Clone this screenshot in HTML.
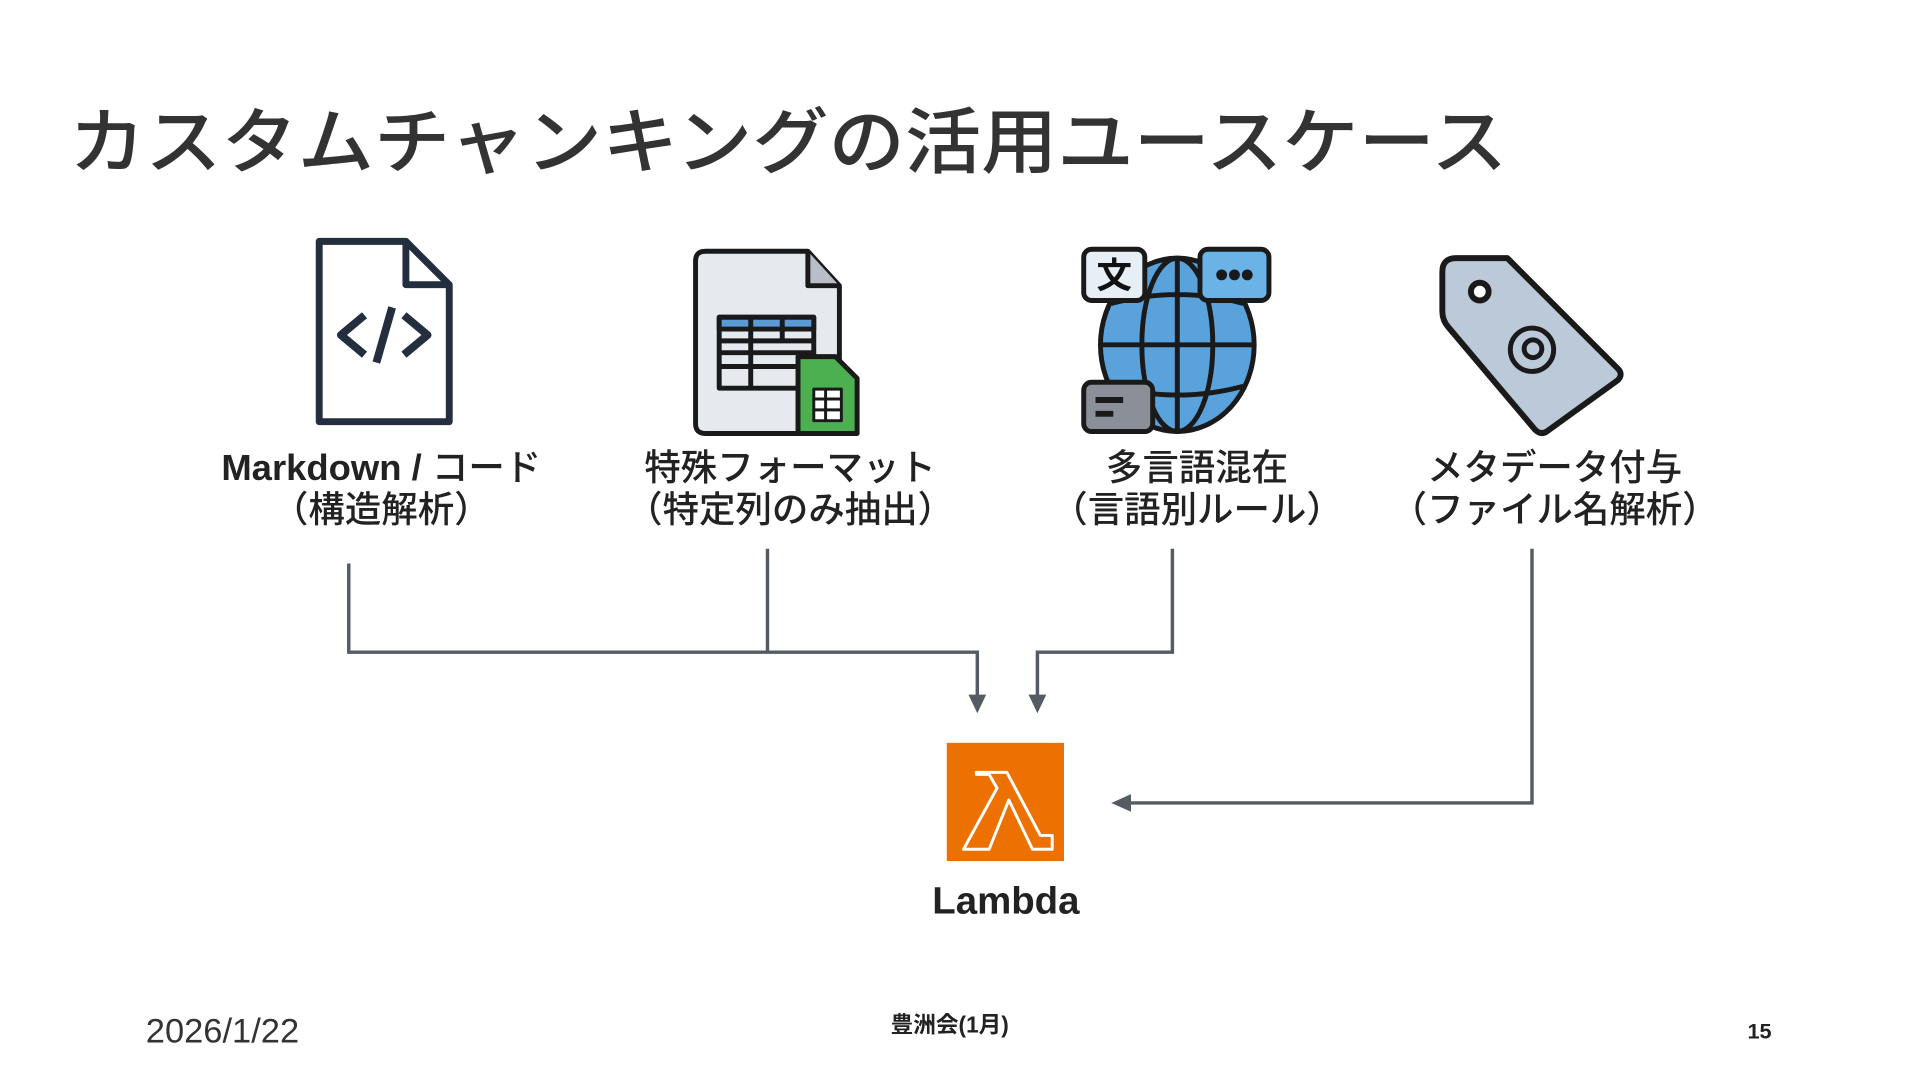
<!DOCTYPE html>
<html><head><meta charset="utf-8"><style>
html,body{margin:0;padding:0;background:#fff;}
svg{display:block}
text{font-family:"Liberation Sans","Noto Sans CJK JP",sans-serif;}
</style></head><body>
<svg width="1920" height="1080" viewBox="0 0 1920 1080" xmlns="http://www.w3.org/2000/svg">
<g transform="scale(0.9852)">
<text x="70" y="170" font-size="73" fill="#333" font-weight="500" style="font-family:'Noto Sans CJK JP',sans-serif" textLength="1460" lengthAdjust="spacingAndGlyphs">カスタムチャンキングの活用ユースケース</text>

<!-- doc code icon -->
<g fill="none" stroke="#232f3e" stroke-width="7" stroke-linejoin="round">
<path d="M324 245 H412 L456 289 V428 H324 Z"/>
<path d="M412 245 V289 H456"/>
<path d="M370 320 L346 340 L370 360" stroke-width="8"/>
<path d="M410 320 L434 340 L410 360" stroke-width="8"/>
<path d="M398 312 L382 368" stroke-width="8"/>
</g>

<!-- spreadsheet icon -->
<g stroke="#1a1a1a" stroke-width="5" stroke-linejoin="round">
<path d="M716 255 H820 L852 290 V440 H716 Q706 440 706 430 V265 Q706 255 716 255Z" fill="#e6e9ee"/>
<path d="M820 255 V290 H852" fill="#b8bec7"/>
<rect x="730" y="322" width="96" height="72" fill="#e6e9ee"/>
<rect x="730" y="322" width="96" height="12" fill="#5b9bd5"/>
<path d="M730 346 H826 M730 358 H826 M730 372 H826 M762 322 V394 M794 322 V346" fill="none"/>
<path d="M810 362 H848 L870 384 V440 H810Z" fill="#4caf50"/>
<rect x="826" y="395" width="28" height="32" fill="#fff" stroke-width="3"/>
<path d="M826 405 H854 M826 416 H854 M838 395 V427" stroke-width="3"/>
</g>

<!-- globe icon -->
<g stroke="#1a1a1a" stroke-width="5">
<ellipse cx="1195" cy="350" rx="78" ry="88" fill="#5aa2dc"/>
<ellipse cx="1195" cy="350" rx="36" ry="88" fill="none"/>
<path d="M1117 350 H1273 M1195 262 V438 M1128 308 Q1195 290 1262 308 M1128 392 Q1195 410 1262 392" fill="none"/>
<rect x="1100" y="253" width="62" height="52" rx="8" fill="#e6eef6"/>
<text x="1131" y="292" font-size="36" font-weight="bold" text-anchor="middle" fill="#111" stroke="none">文</text>
<rect x="1218" y="253" width="70" height="52" rx="8" fill="#69b3e7"/>
<circle cx="1240" cy="279" r="3" fill="#111"/><circle cx="1253" cy="279" r="3" fill="#111"/><circle cx="1266" cy="279" r="3" fill="#111"/>
<rect x="1100" y="388" width="70" height="50" rx="8" fill="#8a8f98"/>
<path d="M1112 406 H1140 M1112 420 H1130" stroke-width="6"/>
</g>

<!-- tag icon -->
<g stroke="#1a1a1a" stroke-width="6" stroke-linejoin="round">
<path d="M1478 262 H1530 L1642 374 Q1648 380 1642 386 L1570 438 Q1564 442 1558 436 L1470 332 Q1464 325 1464 316 V276 Q1464 262 1478 262Z" fill="#bcc9d8"/>
<circle cx="1502" cy="296" r="9" fill="#fff"/>
<circle cx="1555" cy="355" r="22" fill="none" stroke-width="5"/>
<circle cx="1556" cy="354" r="9" fill="none" stroke-width="5"/>
</g>

<!-- labels -->
<g font-size="37" fill="#222" text-anchor="middle" font-weight="500">
<text x="387" y="487"><tspan font-weight="bold">Markdown /</tspan> コード</text>
<text x="387" y="530">（構造解析）</text>
<text x="802" y="487">特殊フォーマット</text>
<text x="802" y="530">（特定列のみ抽出）</text>
<text x="1215" y="487">多言語混在</text>
<text x="1215" y="530">（言語別ルール）</text>
<text x="1578" y="487">メタデータ付与</text>
<text x="1578" y="530">（ファイル名解析）</text>
</g>

<!-- connectors -->
<g fill="none" stroke="#545b64" stroke-width="3.5">
<path d="M354 572 V662 H992 V708"/>
<path d="M779 557 V662"/>
<path d="M1190 557 V662 H1053 V708"/>
<path d="M1555 557 V815 H1145"/>
</g>
<g fill="#545b64">
<path d="M983 705 L1001 705 L992 724Z"/>
<path d="M1044 705 L1062 705 L1053 724Z"/>
<path d="M1148 806 L1148 824 L1128 815Z"/>
</g>

<!-- lambda -->
<rect x="961" y="754" width="119" height="120" fill="#ed7100"/>
<path d="M991 784 H1022 L1056 848 H1068 V862 H1048 L1024 812 L1004 862 H978 L1012 800 L1004 786 H991 Z" fill="none" stroke="#fff" stroke-width="3" stroke-linejoin="round"/>
<text x="1021" y="927" font-size="39" font-weight="bold" fill="#222" text-anchor="middle">Lambda</text>

<!-- footer -->
<text x="148" y="1058" font-size="35" fill="#333">2026/1/22</text>
<text x="964" y="1048" font-size="23" fill="#222" text-anchor="middle" font-weight="bold">豊洲会(1月)</text>
<text x="1786" y="1054" font-size="22" font-weight="bold" fill="#222" text-anchor="middle">15</text>
</g>
</svg>
</body></html>
